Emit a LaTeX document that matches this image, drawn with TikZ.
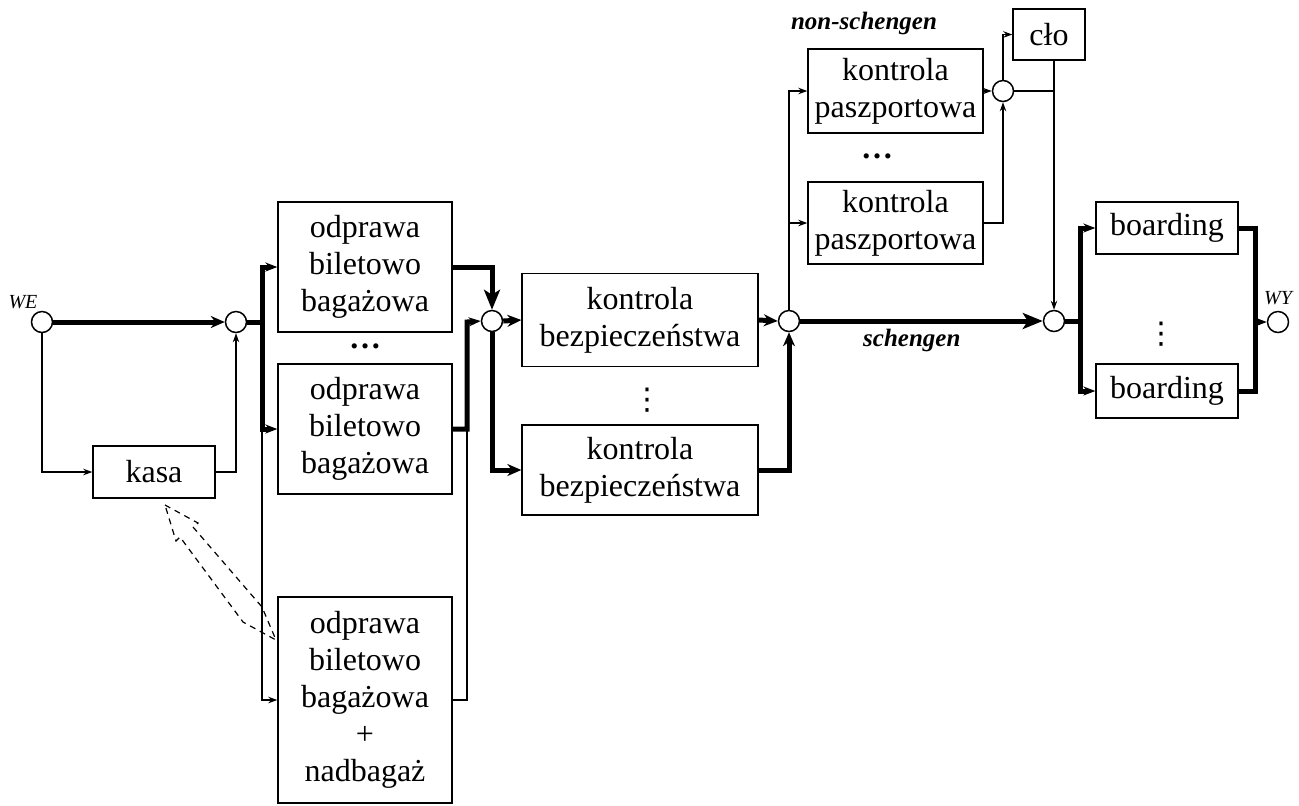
\documentclass[tikz,border=0pt]{standalone}
\usepackage{fontspec}
\setmainfont{Liberation Serif}
\newfontfamily\symbolfont{DejaVu Sans}
\usetikzlibrary{arrows.meta,calc}
\begin{document}
\begin{tikzpicture}[x=0.5pt,y=-0.5pt,
  box/.style={draw,line width=0.65pt,align=center,inner sep=0pt,
    font=\fontsize{16}{18.5}\selectfont},
  junc/.style={draw,circle,line width=0.75pt,minimum size=10.5pt,inner sep=0pt,fill=white},
  flowthin/.style={line width=0.75pt},
  flowthick/.style={line width=2.5pt},
  tipthin/.style={-{Stealth[length=4.5pt,width=3.2pt]}},
  tipbus/.style={-{Stealth[length=6pt,width=4.5pt]}},
  tipmid/.style={-{Stealth[length=7pt,width=6pt]}},
  tipbig/.style={-{Stealth[length=10pt,width=8pt,inset=2.5pt]}},
  tag/.style={font=\fontsize{10}{11}\selectfont\itshape,inner sep=0pt},
  route/.style={font=\fontsize{12.5}{14}\selectfont\bfseries\itshape,inner sep=0pt},
  dots/.style={font=\fontsize{16}{18}\selectfont\bfseries,inner sep=0pt},
  vdots/.style={font=\fontsize{15}{16}\selectfont\symbolfont,inner sep=0pt},
]
\useasboundingbox (0,0) rectangle (1299,805);

% junctions
\node[junc] (we) at (42,322) {};
\node[junc] (c2) at (236,322) {};
\node[junc] (c3) at (492,321) {};
\node[junc] (c4) at (789,321) {};
\node[junc] (c5) at (1003,91) {};
\node[junc] (c6) at (1054,321) {};
\node[junc] (wy) at (1278,322) {};
\node[tag] (we-lbl) at (23,302) {WE};
\node[tag] (wy-lbl) at (1278,298) {WY};

% boxes
\node[box,minimum width=61pt,minimum height=26pt] (kasa) at (154,472) {kasa};
\node[box,minimum width=87pt,minimum height=65pt] (o1) at (365,267) {odprawa\\biletowo\\bagażowa};
\node[box,minimum width=87pt,minimum height=65pt] (o2) at (365,429) {odprawa\\biletowo\\bagażowa};
\node[box,minimum width=87pt,minimum height=103pt] (o3) at (365,700) {odprawa\\biletowo\\bagażowa\\+\\nadbagaż};
\node[box,minimum width=118pt,minimum height=46.5pt] (k1) at (640,320) {kontrola\\bezpieczeństwa};
\node[box,minimum width=118pt,minimum height=45pt] (k2) at (640,470) {kontrola\\bezpieczeństwa};
\node[box,minimum width=87.5pt,minimum height=42pt] (p1) at (895.5,91) {kontrola\\paszportowa};
\node[box,minimum width=87.5pt,minimum height=41pt] (p2) at (895.5,223) {kontrola\\paszportowa};
\node[box,minimum width=36pt,minimum height=25.5pt] (clo) at (1049,34.5) {cło};
\node[box,minimum width=71pt,minimum height=26pt] (b1) at (1167,228) {boarding};
\node[box,minimum width=71pt,minimum height=27pt] (b2) at (1167,391) {boarding};

% ellipses between parallel boxes
\node[dots] (dots-o) at (365,346) {…};
\node[dots] (dots-p) at (877,156) {…};
\node[vdots] (vdots-k) at (647,400) {⋮};
\node[vdots] (vdots-b) at (1161,334) {⋮};

% label of the non-schengen route
\node[route] (non-sch) at (864,23) {non-schengen};

% bus points
\coordinate (busL) at (262,322);
\coordinate (j2) at (467,322);
\coordinate (j3) at (467,429);
\coordinate (busR) at (1080,321);
\coordinate (jR) at (1255,322);

% entry and cash desk
\draw[flowthick,tipmid] (we) -- (c2);
\draw[flowthin,tipthin] (we.south) |- (kasa.west);
\draw[flowthin,tipthin] (kasa.east) -| (c2.south);

% check-in desks
\draw[flowthick] (c2.east) -- (busL);
\draw[flowthin,tipthin] (busL) |- (o3.west);
\draw[flowthick,tipbus] (busL) |- (o1.west);
\draw[flowthick,tipbus] (busL) |- (o2.west);
\draw[flowthick,tipbig] (o1.east) -| (c3.north);
\draw[flowthin] (o3.east) -| (j3);
\draw[flowthick,tipbus] (o2.east) -| (j2) -- (c3.west);

% security control
\draw[flowthick,tipmid] (c3.east) -- (k1.west);
\draw[flowthick,tipmid] (c3.south) |- (k2.west);
\draw[flowthick,tipmid] (k1.east) -- (c4.west);
\draw[flowthick,tipmid] (k2.east) -| (c4.south);

% non-schengen: passport control and customs
\draw[flowthin,tipthin] (c4.north) |- (p1.west);
\draw[flowthin,tipthin] (c4.north) |- (p2.west);
\draw[flowthin,tipthin] (p1.east) -- (c5.west);
\draw[flowthin,tipthin] (p2.east) -| (c5.south);
\draw[flowthin,tipthin] (c5.north) |- (clo.west);
\draw[flowthin] (c5.east) -- (c5.east -| c6);
\draw[flowthin,tipthin] (clo.south -| c6) -- (c6.north);

% schengen
\draw[flowthick,tipbig] (c4.east) -- node[route,pos=0.46,below=3pt] (sch) {schengen} (c6.west);

% boarding
\draw[flowthick] (c6.east) -- (busR);
\draw[flowthick,tipbus] (busR) |- (b1.west);
\draw[flowthick,tipbus] (busR) |- (b2.west);
\draw[flowthick] (b1.east) -| (jR);
\draw[flowthick] (b2.east) -| (jR);
\draw[flowthick,tipbus] (jR) -- (wy.west);

% hollow dashed arrow from the extra-baggage desk to the cash desk
\draw[line width=0.6pt,dash pattern=on 3pt off 2.5pt]
  (165,505) -- (198,523) -- (193,527) -- (262,607) -- (276,640)
  -- (243,622) -- (180,537) -- (176,541) -- cycle;
\end{tikzpicture}
\end{document}
